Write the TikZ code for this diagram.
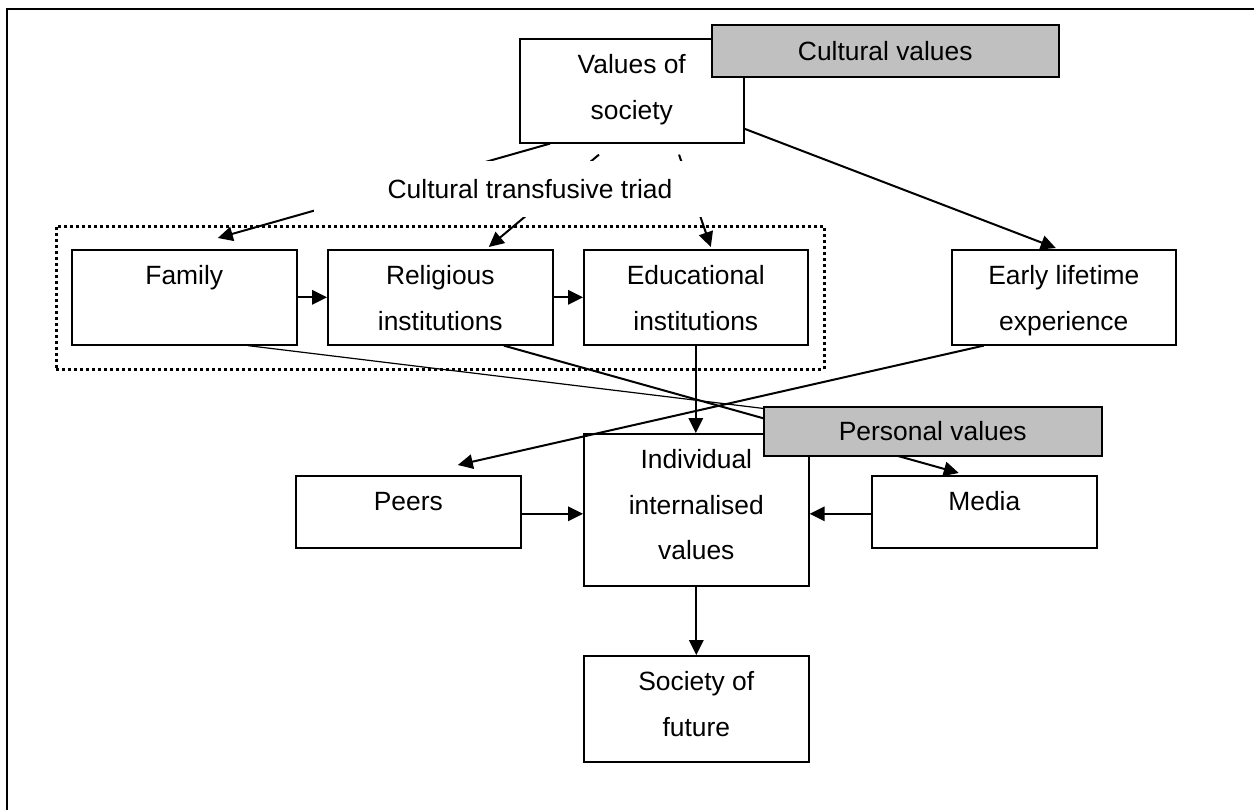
\documentclass[tikz,border=0pt]{standalone}
\usepackage{fontspec}
\setmainfont{Liberation Sans}
\usetikzlibrary{arrows.meta}
\definecolor{labelgray}{HTML}{C0C0C0}
% text block of a box: fixed width and height, lines set from the top
\newcommand{\boxlines}[3]{\parbox[t][#2][t]{#1}{\centering\rule{0pt}{17.5pt}#3}}
\tikzset{
  every node/.style={font=\fontsize{13.2pt}{22.75pt}\selectfont},
  box/.style={draw, line width=0.8pt, fill=white, inner sep=0pt, anchor=north west},
  tag/.style={draw, line width=0.8pt, fill=labelgray, inner sep=0pt, anchor=north west},
  groupframe/.style={draw, line width=1.4pt, dash pattern=on 1.5pt off 1.5pt, inner sep=0pt, anchor=north west},
  flow/.style={line width=1pt, -{Triangle[length=7.5pt,width=7.2pt]}},
  thinlink/.style={line width=0.6pt},
}
\begin{document}
\begin{tikzpicture}[x=0.5pt,y=-0.5pt]
\useasboundingbox (0,0) rectangle (1254,810);

% outer frame
\draw[line width=1.25pt] (7,810) -- (7,9) -- (1254,9);

% dotted frame round the triad
\node[groupframe, minimum width=384pt, minimum height=71.5pt] (triad) at (55,225) {};

% boxes
\node[box] (val)   at (519,38)  {\boxlines{112pt}{52pt}{Values of\\society}};
\node[box] (fam)   at (71,249)  {\boxlines{112.5pt}{47.5pt}{Family}};
\node[box] (rel)   at (327,249) {\boxlines{112.5pt}{47.5pt}{Religious\\institutions}};
\node[box] (edu)   at (583,249) {\boxlines{112pt}{47.5pt}{Educational\\institutions}};
\node[box] (early) at (951,249) {\boxlines{112pt}{47.5pt}{Early lifetime\\experience}};
\node[box] (peers) at (295,475) {\boxlines{112.5pt}{36pt}{Peers}};
\node[box] (ind)   at (583,433) {\boxlines{112.5pt}{76pt}{Individual\\internalised\\values}};
\node[box] (media) at (871,475) {\boxlines{112.5pt}{36pt}{Media}};
\node[box] (soc)   at (583,655) {\boxlines{112.5pt}{53pt}{Society of\\future}};

% connectors
\coordinate (famend) at (850,419);
\draw[flow] ([xshift=15.5pt]val.south west) -- ([xshift=16.75pt,yshift=5.5pt]fam.north);
\draw[flow] ([xshift=40pt,yshift=-5.5pt]val.south west) -- ([xshift=24.25pt,yshift=1pt]rel.north);
\draw[flow] ([xshift=80pt,yshift=-5.5pt]val.south west) -- ([xshift=7.5pt,yshift=1pt]edu.north);
\draw[flow] ([yshift=-19pt]val.east) -- ([xshift=-4pt,yshift=0.5pt]early.north);
\draw[flow] (fam.east) -- (rel.west);
\draw[flow] (rel.east) -- (edu.west);
\draw[thinlink] ([xshift=31.75pt]fam.south) -- (famend);
\draw[flow] ([xshift=31.75pt]rel.south) -- ([xshift=-12.75pt,yshift=1pt]media.north);
\draw[flow] ([xshift=-40pt]early.south) -- ([xshift=24.75pt,yshift=5pt]peers.north);
\draw[flow] (edu.south) -- (edu.south |- ind.north);
\draw[flow] ([yshift=-1pt]peers.east) -- ([yshift=-1pt]peers.east -| ind.west);
\draw[flow] ([yshift=-1pt]media.west) -- ([yshift=-1pt]media.west -| ind.east);
\draw[flow] (ind.south) -- (soc.north);

% label of the triad, set over the three arrows
\node[fill=white, inner sep=0pt, minimum width=216pt, minimum height=28pt] (triadlabel) at (530,189) {Cultural transfusive triad};

% grey tags
\node[tag, minimum width=173.5pt, minimum height=26pt] (cultural) at (711,24) {Cultural values};
\node[tag, minimum width=169pt, minimum height=24.5pt] (personal) at (763,406) {Personal values};
\end{tikzpicture}
\end{document}
